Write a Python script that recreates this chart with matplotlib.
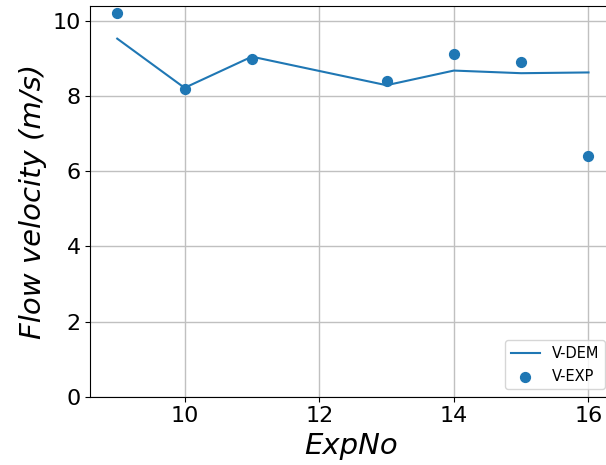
import matplotlib.pyplot as plt
import numpy as np

exp_no = [9, 10, 11, 13, 14, 15, 16]
v_dem = [9.53, 8.22, 9.05, 8.29, 8.68, 8.61, 8.63]
v_exp = [10.2, 8.2, 9.0, 8.4, 9.12, 8.9, 6.41]

fig = plt.figure(figsize=(6.06, 4.65), dpi=100)
ax = fig.add_axes([0.149, 0.147, 0.861, 0.841])
ax.plot(exp_no, v_dem, color="#1f77b4", lw=1.5, label="V-DEM")
ax.scatter(exp_no, v_exp, color="#1f77b4", s=50, label="V-EXP", zorder=3)
ax.set_xlim(8.6, 16.35)
ax.set_ylim(0, 10.41)
ax.grid(True, color="#c0c0c0", lw=1)
ax.set_axisbelow(True)
ax.tick_params(labelsize=16)
ax.set_xlabel("ExpNo", fontsize=21, style="italic")
ax.set_ylabel("Flow velocity (m/s)", fontsize=21, style="italic")
ax.legend(loc="lower right", fontsize=10.5)

fig.savefig("out.png", dpi=100)
